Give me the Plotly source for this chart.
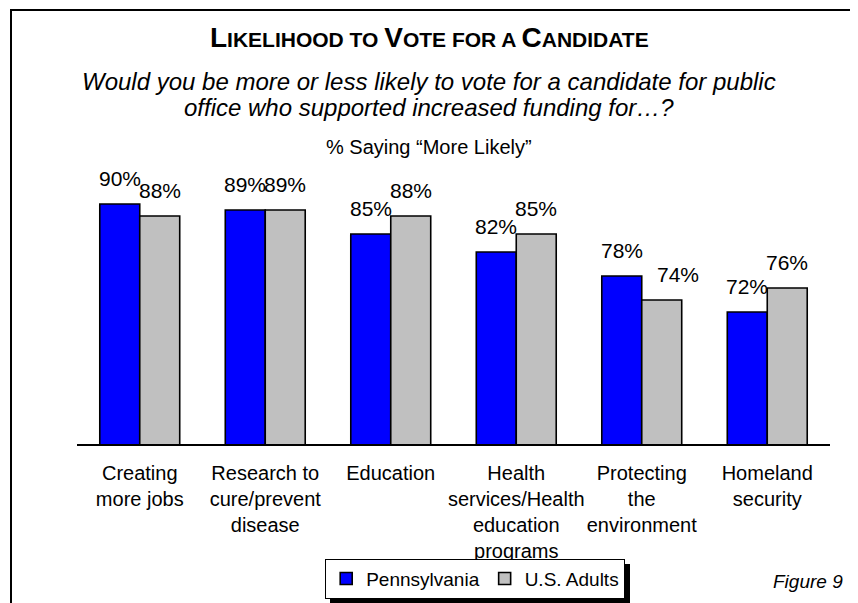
import plotly.graph_objects as go

categories = [
    "Creating<br>more jobs",
    "Research to<br>cure/prevent<br>disease",
    "Education",
    "Health<br>services/Health<br>education<br>programs",
    "Protecting<br>the<br>environment",
    "Homeland<br>security",
]
pennsylvania = [90, 89, 85, 82, 78, 72]
us_adults = [88, 89, 88, 85, 74, 76]
series_names = ["Pennsylvania", "U.S. Adults"]

FONT = "Liberation Sans, Arial, sans-serif"
OFF = 8  # page body margin
W, H = 858 - OFF, 603 - OFF
L, R, T, B = 77 - OFF, 28, 144 - OFF, 159
PW, PH = W - L - R, H - T - B


def px(x):
    """screen x (px) -> paper x"""
    return (x - OFF - L) / PW


def py(y):
    """screen y (px) -> paper y"""
    return (T + PH - (y - OFF)) / PH


fig = go.Figure()
fig.add_trace(go.Bar(
    name=series_names[0], x=categories, y=pennsylvania,
    marker=dict(color="#0000FF", line=dict(color="black", width=1.6)),
))
fig.add_trace(go.Bar(
    name=series_names[1], x=categories, y=us_adults,
    marker=dict(color="#C0C0C0", line=dict(color="black", width=1.6)),
))

annotations = []
# data labels
label_xshift = {(1, 4): 16}
for s, vals in enumerate([pennsylvania, us_adults]):
    for i, v in enumerate(vals):
        annotations.append(dict(
            x=categories[i], y=v, xref="x", yref="y",
            text=f"{v}%", showarrow=False,
            xshift=(-20 if s == 0 else 20) + label_xshift.get((s, i), 0),
            yshift=26, yanchor="middle",
            font=dict(family=FONT, size=21, color="black"),
        ))

big = "<span style='font-size:28px'>"
title = (f"<b>{big}L</span>IKELIHOOD TO {big}V</span>OTE FOR A "
         f"{big}C</span>ANDIDATE</b>")


def note(x, y, text, size, xanchor="center"):
    return dict(x=px(x), y=py(y), xref="paper", yref="paper", text=text,
                xanchor=xanchor, yanchor="middle", showarrow=False,
                font=dict(family=FONT, size=size, color="black"))


annotations += [
    note(429, 37, title, 21),
    note(429, 82, "<i>Would you be more or less likely to vote for a candidate for public</i>", 24),
    note(429, 107, "<i>office who supported increased funding for\u2026?</i>", 24),
    note(429, 147, "% Saying \u201cMore Likely\u201d", 20),
    note(845, 581, "<i>Figure 9</i>", 19, xanchor="right"),
]

shapes = [
    # outer frame
    dict(type="rect", xref="paper", yref="paper",
         x0=px(11), x1=px(851), y0=py(640), y1=py(10),
         line=dict(color="black", width=2), fillcolor="rgba(0,0,0,0)",
         layer="above"),
    # legend shadow
    dict(type="rect", xref="paper", yref="paper",
         x0=px(330), x1=px(630), y0=py(603), y1=py(564),
         line=dict(width=0), fillcolor="black", layer="above"),
]

fig.update_layout(
    width=W, height=H,
    margin=dict(l=L, r=R, t=T, b=B, autoexpand=False),
    paper_bgcolor="white", plot_bgcolor="white",
    barmode="group", bargap=0.363, bargroupgap=0,
    showlegend=True,
    legend=dict(
        orientation="h", x=px(475), y=py(579), xanchor="center", yanchor="middle",
        bgcolor="white", bordercolor="black", borderwidth=1.2,
        font=dict(family=FONT, size=19, color="black"),
        traceorder="normal",
    ),
    xaxis=dict(
        showline=True, linecolor="black", linewidth=2,
        ticks="outside", ticklen=10, tickcolor="rgba(0,0,0,0)",
        tickangle=0, automargin=False,
        tickfont=dict(family=FONT, size=20, color="black"),
        showgrid=False, zeroline=False,
    ),
    yaxis=dict(range=[50, 100], visible=False, showgrid=False, automargin=False),
    annotations=annotations,
    shapes=shapes,
    font=dict(family=FONT, color="black"),
)

fig.write_html("out.html")
